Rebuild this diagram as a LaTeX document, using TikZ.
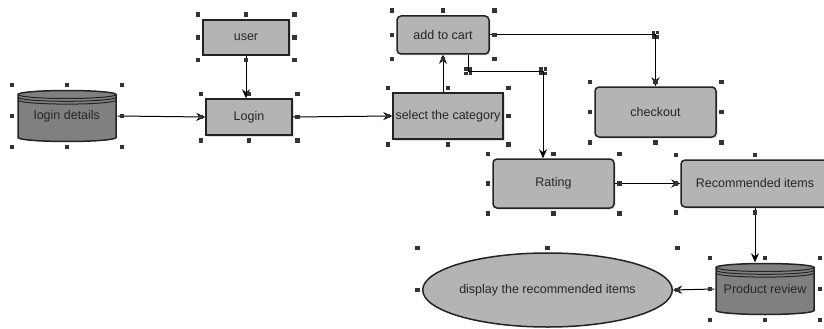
\documentclass[tikz,border=0pt]{standalone}
\usepackage{fontspec}
\setmainfont{Liberation Sans}
\usetikzlibrary{arrows.meta,calc,shapes.geometric,shadows}

\definecolor{boxgray}{RGB}{180,180,180}
\definecolor{dbgray}{RGB}{128,128,128}
\definecolor{inkgray}{RGB}{35,35,35}

% selection handles round a node
\newcommand\selmarks[1]{%
  \foreach \ha/\va/\dx/\dy [count=\i] in {west/north/-1/1,center/north/0/1,east/north/1/1,
      west/center/-1/0,east/center/1/0,west/south/-1/-1,center/south/0/-1,east/south/1/-1}
    {\node[handle] (#1h\i) at ($(#1.\ha |- #1.\va)+(\dx*4.5pt,\dy*4.5pt)$) {};}}
% handles on a bend of a connector
\newcommand\bendmarks[1]{%
  \foreach \dx/\dy [count=\i] in {-1/1,1/1,-1/-1,1/-1}
    {\node[handle, minimum size=3.4pt] (#1h\i) at ($(#1)+(\dx*2.2pt,\dy*2.2pt)$) {};}}

\begin{document}
\begin{tikzpicture}[x=1pt, y=1pt, >={Stealth[length=9pt,width=8pt,inset=3pt]},
  box/.style={rectangle, draw=inkgray, line width=1.5pt, fill=boxgray, inner sep=0pt,
    text=black!85, font=\fontsize{12.5}{15}\selectfont,
    drop shadow={opacity=0.25, shadow xshift=1.5pt, shadow yshift=-1.5pt}},
  rbox/.style={box, rounded corners=4pt},
  db/.style={rectangle, inner sep=0pt, minimum width=101pt, minimum height=53pt,
    text=black!85, font=\fontsize{12.5}{15}\selectfont,
    path picture={
      \filldraw[fill=dbgray, draw=inkgray, line width=1.5pt]
        ([xshift=-49pt,yshift=21.5pt]path picture bounding box.center) -- ++(0pt,-43pt)
        arc[start angle=180, end angle=360, x radius=49pt, y radius=4pt] -- ++(0pt,43pt)
        arc[start angle=0, end angle=180, x radius=49pt, y radius=4pt] -- cycle;
      \foreach \k in {0,2.8,5.6}
        {\draw[inkgray, line width=1pt]
          ([xshift=-49pt,yshift=21.5pt-\k pt]path picture bounding box.center)
          arc[start angle=180, end angle=360, x radius=49pt, y radius=4pt];}
    }},
  oval/.style={ellipse, draw=inkgray, line width=1.5pt, fill=boxgray, inner sep=0pt,
    text=black!85, font=\fontsize{12.5}{15}\selectfont},
  conn/.style={->, draw=black, line width=1pt},
  handle/.style={rectangle, fill=black!80, minimum size=4.5pt, inner sep=0pt}]

  \useasboundingbox (0,0) rectangle (824,-329);

  % Data stores

  \node[db] (ld) at (67,-116) {login details};
  \node[db] (review) at (765,-289) {Product review};

  % Steps

  \node[box, minimum width=86pt, minimum height=35pt] (user) at (246,-37.5) {user};
  \node[box, minimum width=86pt, minimum height=36pt] (login) at (249,-117) {Login};
  \node[box, minimum width=110pt, minimum height=46pt] (cat) at (448,-116) {select the category};
  \node[rbox, minimum width=92pt, minimum height=38pt] (cart) at (443,-35) {add to cart};
  \node[rbox, minimum width=121pt, minimum height=50pt] (checkout) at (655.5,-112) {checkout};
  \node[rbox, minimum width=121pt, minimum height=49pt] (rating) at (553.5,-183.5) {Rating};
  \node[rbox, minimum width=148pt, minimum height=47pt] (recom) at (755,-183.5) {Recommended items};
  \node[oval, minimum width=219pt, minimum height=74pt] (show) at (547.5,-290) {display the recommended items};

  % Bends

  \coordinate (j1) at (checkout.north |- cart.east);
  \coordinate (j2) at (468,-71);
  \coordinate (j3) at (543,-71);

  % Connectors

  \draw[conn] (ld.east) -- (login.west);
  \draw[conn] (user.south) -- (user.south |- login.north);
  \draw[conn] (login.east) -- (cat.west);
  \draw[conn] (cart.south |- cat.north) -- (cart.south);
  \draw[conn] (cart.east) -- (j1) -- (checkout.north);
  \draw[conn] (j2 |- cart.south) -- (j2) -- (j3) -- (j3 |- rating.north);
  \draw[conn] (rating.east) -- (recom.west);
  \draw[conn] (recom.south) -- (recom.south |- review.north);
  \draw[conn] (review.west) -- (show.east);

  % Handles

  \foreach \n in {ld,review,user,login,cat,cart,checkout,rating,recom,show}
    {\selmarks{\n}}
  \foreach \n in {j1,j2,j3}
    {\bendmarks{\n}}

\end{tikzpicture}
\end{document}
